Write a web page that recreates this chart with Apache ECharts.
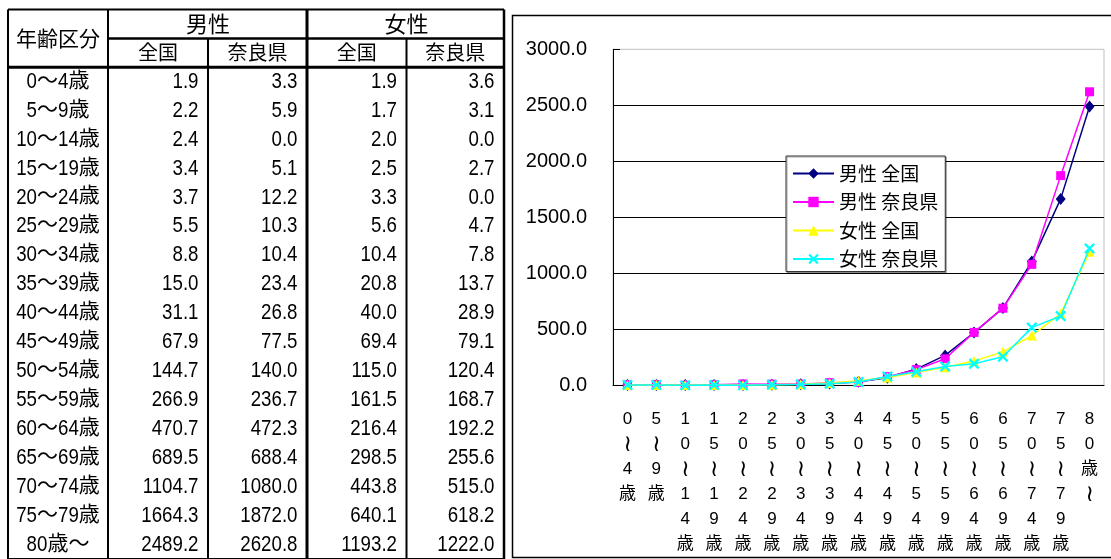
<!DOCTYPE html>
<html>
<head>
<meta charset="utf-8">
<script src="https://cdn.jsdelivr.net/npm/echarts@6/dist/echarts.min.js"></script>
<style>
  html, body { margin: 0; padding: 0; background: #fff; }
  #main { width: 1111px; height: 559px; }
</style>
</head>
<body>
<div id="main"></div>
<script>
// ---- data ----
const ageGroups = ['0〜4歳', '5〜9歳', '10〜14歳', '15〜19歳', '20〜24歳', '25〜29歳', '30〜34歳',
  '35〜39歳', '40〜44歳', '45〜49歳', '50〜54歳', '55〜59歳', '60〜64歳', '65〜69歳',
  '70〜74歳', '75〜79歳', '80歳〜'];
const maleNational   = [1.9, 2.2, 2.4, 3.4, 3.7, 5.5, 8.8, 15.0, 31.1, 67.9, 144.7, 266.9, 470.7, 689.5, 1104.7, 1664.3, 2489.2];
const maleNara       = [3.3, 5.9, 0.0, 5.1, 12.2, 10.3, 10.4, 23.4, 26.8, 77.5, 140.0, 236.7, 472.3, 688.4, 1080.0, 1872.0, 2620.8];
const femaleNational = [1.9, 1.7, 2.0, 2.5, 3.3, 5.6, 10.4, 20.8, 40.0, 69.4, 115.0, 161.5, 216.4, 298.5, 443.8, 640.1, 1193.2];
const femaleNara     = [3.6, 3.1, 0.0, 2.7, 0.0, 4.7, 7.8, 13.7, 28.9, 79.1, 120.4, 168.7, 192.2, 255.6, 515.0, 618.2, 1222.0];
const seriesNames = ['男性 全国', '男性 奈良県', '女性 全国', '女性 奈良県'];
const headerTitle = '年齢区分';
const sexLabels = ['男性', '女性'];
const regionLabels = ['全国', '奈良県'];
const yMin = 0, yMax = 3000, yStep = 500;

// ---- layout / style ----
const CJK = "'Noto Sans CJK JP'";
const LATIN = "'Liberation Sans'";
const SANS = "'Liberation Sans', 'DejaVu Sans', 'Noto Sans CJK JP'";
const NUM_FONT = '22px ' + LATIN;      // drawn horizontally condensed
const NUM_SCALE = 0.85;
const CJK_CELL_FONT = '21px ' + CJK;
const CJK_SHIFT = -3;                  // aligns kanji run with the condensed digits
const colEdges = [0, 100, 200, 299, 398.5, 496];   // table column boundaries (px inside table grid)
const ROW_COUNT = 2 + ageGroups.length;
const colors = ['#000080', '#FF00FF', '#FFFF00', '#00FFFF'];
const symbols = ['diamond', 'rect', 'triangle',
  'path://M0,1.5L1.5,0L5,3.5L8.5,0L10,1.5L6.5,5L10,8.5L8.5,10L5,6.5L1.5,10L0,8.5L3.5,5Z'];
const symbolSizes = [[10, 12], 9, 10, 11];

// text measuring for mixed narrow digits / full-width kanji runs
const measureCtx = document.createElement('canvas').getContext('2d');
function textWidth(t, font) { measureCtx.font = font; return measureCtx.measureText(t).width; }
function runsOf(label) {
  return label.match(/[0-9.]+|[^0-9.]+/g).map(t => {
    const isNum = /^[0-9.]/.test(t);
    const w = isNum ? textWidth(t, NUM_FONT) * NUM_SCALE : textWidth(t, CJK_CELL_FONT);
    return { t, isNum, w };
  });
}

// ---- table cells ----
const valueCols = [maleNational, maleNara, femaleNational, femaleNara];
const fmt = v => v.toFixed(1);
const cells = [];
cells.push({ kind: 'head', x: (colEdges[0] + colEdges[1]) / 2, y: 1, text: headerTitle, font: '21px ' + CJK });
sexLabels.forEach((s, i) => {
  cells.push({ kind: 'head', x: colEdges[2 + 2 * i], y: 0.5, text: s, font: '22px ' + CJK });
});
for (let c = 1; c <= 4; c++) {
  cells.push({ kind: 'head', x: (colEdges[c] + colEdges[c + 1]) / 2, y: 1.5, text: regionLabels[(c - 1) % 2], font: '20px ' + CJK });
}
ageGroups.forEach((a, r) => {
  cells.push({ kind: 'age', x: (colEdges[0] + colEdges[1]) / 2, y: r + 2.5, text: a });
  valueCols.forEach((arr, k) => {
    cells.push({ kind: 'num', x: colEdges[k + 2], y: r + 2.5, text: fmt(arr[r]) });
  });
});

// ---- table rules: [x1, y1, x2, y2, width] ----
const W = colEdges[5];
const rules = [
  [0, 0, W, 0, 2], [0, ROW_COUNT, W, ROW_COUNT, 2], [0, 0, 0, ROW_COUNT, 2], [W, 0, W, ROW_COUNT, 2.5],
  [colEdges[1], 0, colEdges[1], ROW_COUNT, 2],
  [colEdges[2], 1, colEdges[2], ROW_COUNT, 2],
  [colEdges[3], 0, colEdges[3], ROW_COUNT, 3],
  [colEdges[4], 1, colEdges[4], ROW_COUNT, 2],
  [colEdges[1], 1, W, 1, 2.5],
  [0, 2, W, 2, 3]
];

function renderCell(params, api) {
  const c = cells[params.dataIndex];
  const p = api.coord([api.value(0), api.value(1)]);
  if (c.kind === 'head') {
    return { type: 'text', x: p[0], y: p[1],
      style: { text: c.text, font: c.font, fill: '#000', align: 'center', verticalAlign: 'middle' } };
  }
  if (c.kind === 'num') {
    return { type: 'text', x: p[0] - 9.5, y: p[1], scaleX: NUM_SCALE,
      style: { text: c.text, font: NUM_FONT, fill: '#000', align: 'right', verticalAlign: 'middle' } };
  }
  // age label: condensed digits with full-width 〜 / 歳
  const runs = runsOf(c.text);
  const total = runs.reduce((s, r) => s + r.w, 0);
  let cx = -total / 2;
  const children = runs.map(r => {
    const el = r.isNum
      ? { type: 'text', x: cx, y: 0, scaleX: NUM_SCALE,
          style: { text: r.t, font: NUM_FONT, fill: '#000', align: 'left', verticalAlign: 'middle' } }
      : { type: 'text', x: cx, y: CJK_SHIFT,
          style: { text: r.t, font: CJK_CELL_FONT, fill: '#000', align: 'left', verticalAlign: 'middle' } };
    cx += r.w;
    return el;
  });
  return { type: 'group', x: p[0], y: p[1], children };
}

const chart = echarts.init(document.getElementById('main'), null, { renderer: 'canvas' });

const seriesData = [maleNational, maleNara, femaleNational, femaleNara];
const lineSeries = seriesNames.map((name, i) => ({
  name,
  type: 'line',
  xAxisIndex: 0,
  yAxisIndex: 0,
  data: seriesData[i],
  symbol: symbols[i],
  symbolSize: symbolSizes[i],
  showAllSymbol: true,
  lineStyle: { color: colors[i], width: 1.5 },
  itemStyle: { color: colors[i] },
  emphasis: { disabled: true },
  z: 3 + i
}));

chart.setOption({
  animation: false,
  backgroundColor: '#fff',
  graphic: [{
    type: 'rect',
    z: -1,
    shape: { x: 512.5, y: 15.5, width: 700, height: 542 },
    style: { fill: 'none', stroke: '#000', lineWidth: 1.5 }
  }],
  grid: [
    { left: 613, top: 49.3, right: 7, height: 336, show: true, borderColor: '#c0c0c0', borderWidth: 1, backgroundColor: 'transparent' },
    { left: 8, top: 9.5, width: W, height: 552, show: false }
  ],
  legend: {
    orient: 'vertical',
    left: 786,
    top: 156,
    data: seriesNames,
    itemWidth: 41,
    itemHeight: 13,
    itemGap: 9.5,
    padding: [8, 7, 3, 6],
    backgroundColor: '#fff',
    borderColor: '#333',
    borderWidth: 1,
    shadowColor: 'rgba(0,0,0,0.35)',
    shadowOffsetX: 1,
    shadowOffsetY: 1,
    shadowBlur: 0,
    textStyle: { fontSize: 19, fontFamily: CJK, color: '#000' },
    selectedMode: false,
    z: 10
  },
  xAxis: [
    {
      type: 'category',
      gridIndex: 0,
      data: ageGroups,
      boundaryGap: true,
      axisLine: { lineStyle: { color: '#000', width: 1 } },
      axisTick: { inside: true, length: 6, interval: 0, lineStyle: { color: '#000' } },
      axisLabel: {
        interval: 0,
        margin: 22,
        fontSize: 17,
        lineHeight: 25,
        fontFamily: SANS,
        color: '#000',
        formatter: v => v.split('').map(ch => ch === '〜' ? '{w|≀}' : ch).join('\n'),
        rich: { w: { fontSize: 23, lineHeight: 25, fontFamily: "'DejaVu Sans'", color: '#000' } }
      },
      splitLine: { show: false }
    },
    { type: 'value', gridIndex: 1, min: 0, max: W, show: false }
  ],
  yAxis: [
    {
      type: 'value',
      gridIndex: 0,
      min: yMin,
      max: yMax,
      interval: yStep,
      axisLine: { show: true, lineStyle: { color: '#000', width: 1 } },
      axisTick: { show: true, inside: true, length: 7, lineStyle: { color: '#000' } },
      axisLabel: { margin: 26, fontSize: 20, fontFamily: SANS, color: '#000', formatter: v => v.toFixed(1) },
      splitLine: { show: true, showMaxLine: false, showMinLine: false, lineStyle: { color: '#000', width: 1 } }
    },
    { type: 'value', gridIndex: 1, min: 0, max: ROW_COUNT, inverse: true, show: false }
  ],
  series: [
    ...lineSeries,
    {
      type: 'custom',
      name: 'tableRules',
      xAxisIndex: 1,
      yAxisIndex: 1,
      silent: true,
      clip: false,
      data: rules,
      renderItem: (params, api) => {
        const p1 = api.coord([api.value(0), api.value(1)]);
        const p2 = api.coord([api.value(2), api.value(3)]);
        return {
          type: 'line',
          shape: { x1: p1[0], y1: p1[1], x2: p2[0], y2: p2[1] },
          style: { stroke: '#000', lineWidth: api.value(4) }
        };
      }
    },
    {
      type: 'custom',
      name: 'tableText',
      xAxisIndex: 1,
      yAxisIndex: 1,
      silent: true,
      clip: false,
      data: cells.map(c => [c.x, c.y]),
      renderItem: renderCell
    }
  ]
});
</script>
</body>
</html>
